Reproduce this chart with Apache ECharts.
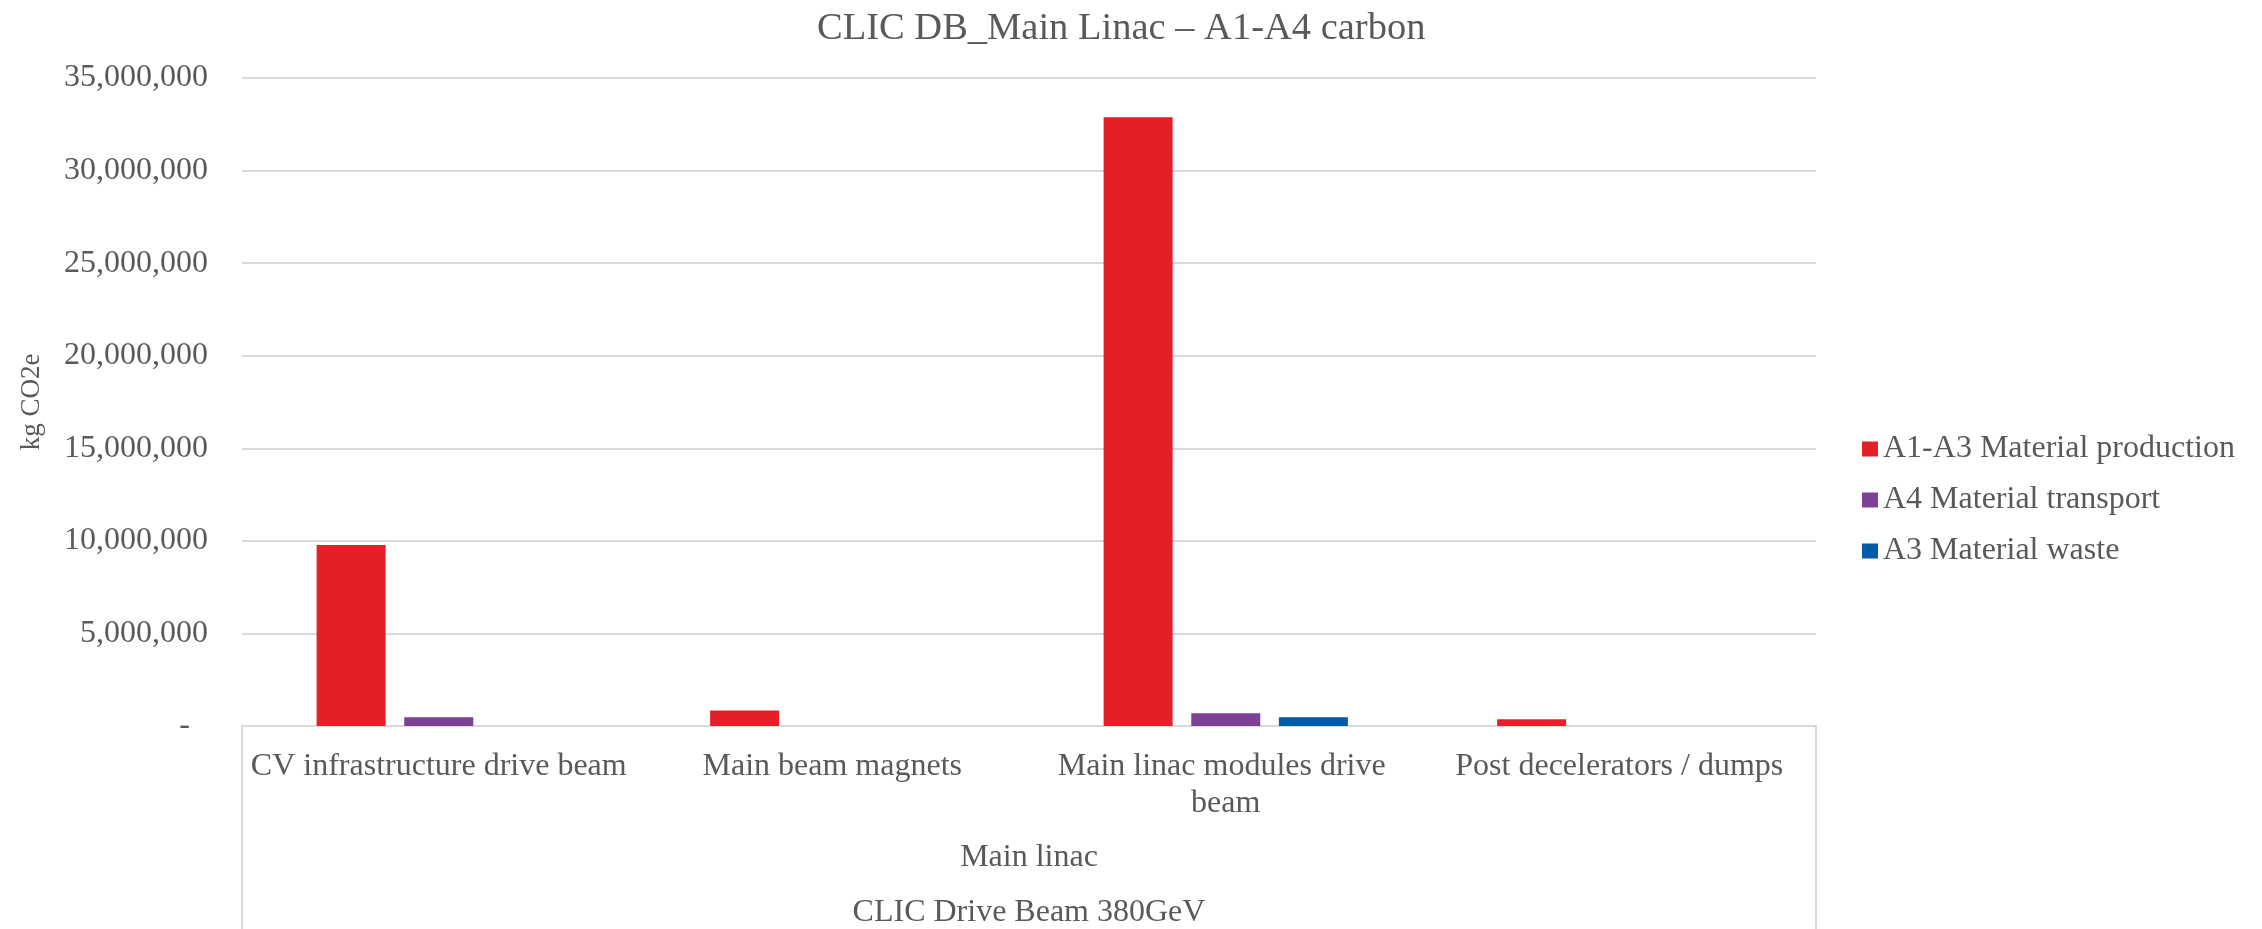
<!DOCTYPE html>
<html>
<head>
<meta charset="utf-8">
<script src="https://cdn.jsdelivr.net/npm/echarts@6/dist/echarts.min.js"></script>
<style>
html,body{margin:0;padding:0;background:#fff;}
#chart{width:2262px;height:929px;}
</style>
</head>
<body>
<div id="chart"></div>
<script>
const titleText = 'CLIC DB_Main Linac \u2013 A1-A4 carbon';
const categories = ['CV infrastructure drive beam', 'Main beam magnets', 'Main linac modules drive beam', 'Post decelerators / dumps'];
const level2 = ['Main linac'];
const level3 = ['CLIC Drive Beam 380GeV'];
const seriesNames = ['A1-A3 Material production', 'A4 Material transport', 'A3 Material waste'];
const production = [9780000, 840000, 32880000, 360000];
const transport = [470000, 0, 690000, 0];
const waste = [0, 0, 470000, 0];
const yTicks = [0, 5000000, 10000000, 15000000, 20000000, 25000000, 30000000, 35000000];

const FONT = '"Liberation Serif", "Times New Roman", serif';
const TXT = '#595959';
const GRID = '#d9d9d9';
const colors = ['#E41F27', '#7E4196', '#005BAA'];

const chart = echarts.init(document.getElementById('chart'));
const seriesData = [production, transport, waste];
chart.setOption({
  animation: false,
  backgroundColor: '#fff',
  title: {
    text: titleText,
    left: 812,
    top: 4,
    textStyle: {fontFamily: FONT, fontSize: 38.5, fontWeight: 'normal', color: TXT}
  },
  legend: {
    orient: 'vertical',
    left: 1857,
    top: 428,
    itemWidth: 16,
    itemHeight: 15,
    itemGap: 19,
    icon: 'rect',
    textStyle: {fontFamily: FONT, fontSize: 32, color: TXT},
    data: seriesNames
  },
  grid: {left: 242, right: 446, top: 78, bottom: 202, containLabel: false},
  xAxis: [
    {
      type: 'category',
      data: categories,
      position: 'bottom',
      axisLine: {show: true, lineStyle: {color: GRID, width: 2}},
      axisTick: {show: false},
      axisLabel: {
        fontFamily: FONT, fontSize: 32, color: TXT, margin: 22,
        width: 393, overflow: 'break', lineHeight: 37, interval: 0
      }
    },
    {
      type: 'category',
      data: level2,
      position: 'bottom',
      axisLine: {show: false},
      axisTick: {show: true, length: 215, lineStyle: {color: GRID, width: 2}},
      axisLabel: {fontFamily: FONT, fontSize: 32, color: TXT, margin: 116}
    },
    {
      type: 'category',
      data: level3,
      position: 'bottom',
      axisLine: {show: false},
      axisTick: {show: false},
      axisLabel: {fontFamily: FONT, fontSize: 32, color: TXT, margin: 171}
    }
  ],
  yAxis: {
    type: 'value',
    min: yTicks[0],
    max: yTicks[yTicks.length - 1],
    interval: yTicks[1] - yTicks[0],
    name: 'kg CO2e',
    nameLocation: 'middle',
    nameGap: 197,
    nameTextStyle: {fontFamily: FONT, fontSize: 27, color: TXT},
    axisLine: {show: false},
    axisTick: {show: false},
    splitLine: {show: true, lineStyle: {color: GRID, width: 2}},
    axisLabel: {
      fontFamily: FONT, fontSize: 32, color: TXT, margin: 34,
      formatter: function (v) {
        return v === 0 ? '{z|-}' : v.toLocaleString('en-US');
      },
      rich: {z: {fontFamily: FONT, fontSize: 32, color: TXT, padding: [0, 18, 0, 0]}}
    }
  },
  series: seriesNames.map((n, i) => ({
    name: n,
    type: 'bar',
    xAxisIndex: 0,
    data: seriesData[i],
    barWidth: 69,
    barGap: '27%',
    itemStyle: {color: colors[i]}
  }))
});
</script>
</body>
</html>
